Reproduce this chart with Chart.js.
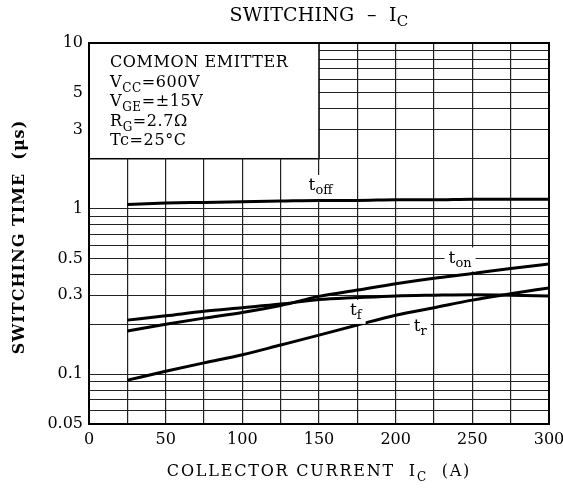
<!DOCTYPE html>
<html>
<head>
<meta charset="utf-8">
<script src="https://cdn.jsdelivr.net/npm/chart.js@4/dist/chart.umd.min.js"></script>
<style>
  html, body { margin: 0; padding: 0; background: #fff; }
  canvas { display: block; }
</style>
</head>
<body>
<canvas id="swChart" width="563" height="488"></canvas>
<script>
// Switching time vs collector current
const currents = [25, 50, 75, 100, 125, 150, 175, 200, 225, 250, 275, 300];
const tOff = [1.06, 1.08, 1.09, 1.10, 1.11, 1.12, 1.12, 1.13, 1.13, 1.14, 1.14, 1.14];
const tOn  = [0.182, 0.200, 0.218, 0.236, 0.260, 0.295, 0.322, 0.352, 0.380, 0.405, 0.435, 0.463];
const tF   = [0.212, 0.225, 0.240, 0.252, 0.265, 0.282, 0.290, 0.297, 0.300, 0.302, 0.300, 0.296];
const tR   = [0.092, 0.104, 0.117, 0.131, 0.150, 0.172, 0.198, 0.227, 0.252, 0.280, 0.306, 0.332];

const xLabelValues = [0, 50, 100, 150, 200, 250, 300];
const yLabelValues = [0.05, 0.1, 0.3, 0.5, 1, 3, 5, 10];
const yGridValues  = [0.05, 0.06, 0.07, 0.08, 0.09, 0.1, 0.2, 0.3, 0.4, 0.5, 0.6, 0.7, 0.8, 0.9,
                      1, 2, 3, 4, 5, 6, 7, 8, 9, 10];

const SERIF = '"DejaVu Serif", "Liberation Serif", serif';
const pts = ys => currents.map((x, i) => ({ x, y: ys[i] }));

// curve labels: [main, subscript, x (A), y (µs)]
const curveLabels = [
  ['t', 'off', 151, 1.37],
  ['t', 'on',  242, 0.50],
  ['t', 'f',   174, 0.241],
  ['t', 'r',   216, 0.195],
];

// condition box (covers the grid from 0..150 A, 2..10 µs)
const boxLines = [
  [['COMMON EMITTER', 0]],
  [['V', 0], ['CC', 1], ['=600V', 0]],
  [['V', 0], ['GE', 1], ['=±15V', 0]],
  [['R', 0], ['G', 1], ['=2.7Ω', 0]],
  [['Tc=25°C', 0]],
];

function drawParts(ctx, x, y, parts, size, subSize, spacing) {
  parts.forEach(([txt, isSub]) => {
    ctx.font = `${isSub ? subSize : size}px ${SERIF}`;
    ctx.letterSpacing = (spacing || 0) + 'px';
    ctx.fillText(txt, x, isSub ? y + 5 : y);
    x += ctx.measureText(txt).width;
  });
  ctx.letterSpacing = '0px';
  return x;
}

function partsWidth(ctx, parts, size, subSize, spacing) {
  let w = 0;
  parts.forEach(([txt, isSub]) => {
    ctx.font = `${isSub ? subSize : size}px ${SERIF}`;
    ctx.letterSpacing = (spacing || 0) + 'px';
    w += ctx.measureText(txt).width;
  });
  ctx.letterSpacing = '0px';
  return w;
}

const decorPlugin = {
  id: 'decor',
  beforeDatasetsDraw(chart) {
    const { ctx, scales: { x, y } } = chart;
    const left = x.getPixelForValue(0), right = x.getPixelForValue(150);
    const top = y.getPixelForValue(10), bottom = y.getPixelForValue(2);
    ctx.save();
    ctx.fillStyle = '#fff';
    ctx.fillRect(left, top, right - left, bottom - top);
    ctx.strokeStyle = '#000';
    ctx.lineWidth = 1.5;
    ctx.strokeRect(left, top, right - left, bottom - top);
    ctx.fillStyle = '#000';
    ctx.textBaseline = 'alphabetic';
    ctx.textAlign = 'left';
    boxLines.forEach((parts, i) => drawParts(ctx, left + 21, top + 24 + i * 19.5, parts, 16, 12, 0.6));
    ctx.restore();
  },
  afterDatasetsDraw(chart) {
    const { ctx, chartArea: ca, scales: { x, y } } = chart;
    ctx.save();
    ctx.fillStyle = '#000';
    ctx.textAlign = 'left';
    ctx.textBaseline = 'middle';

    // curve labels with white knockout
    curveLabels.forEach(([main, sub, vx, vy]) => {
      const parts = [[main, 0], [sub, 1]];
      const w = partsWidth(ctx, parts, 17, 13, 0);
      const cx = x.getPixelForValue(vx), cy = y.getPixelForValue(vy);
      ctx.fillStyle = '#fff';
      ctx.fillRect(cx - w / 2 - 4, cy - 11, w + 8, 24);
      ctx.fillStyle = '#000';
      drawParts(ctx, cx - w / 2, cy, parts, 17, 13, 0);
    });

    // frame
    ctx.strokeStyle = '#000';
    ctx.lineWidth = 2;
    ctx.strokeRect(ca.left, ca.top, ca.right - ca.left, ca.bottom - ca.top);

    const midX = (ca.left + ca.right) / 2;
    ctx.textBaseline = 'alphabetic';

    // title
    const title = [['SWITCHING', 0], ['  –  ', 0], ['I', 0], ['C', 1]];
    const tw = partsWidth(ctx, title, 19, 15, 0.2);
    drawParts(ctx, midX - tw / 2, 21, title, 19, 15, 0.2);

    // x-axis title
    const xt = [['COLLECTOR CURRENT', 0], ['  I', 0], ['C', 1], ['  (A)', 0]];
    const xw = partsWidth(ctx, xt, 16, 12, 1.8);
    drawParts(ctx, midX - xw / 2, 476, xt, 16, 12, 1.8);

    // y-axis title
    ctx.translate(24, 237);
    ctx.rotate(-Math.PI / 2);
    ctx.textAlign = 'center';
    ctx.font = `bold 16px ${SERIF}`;
    ctx.letterSpacing = '1px';
    ctx.fillText('SWITCHING TIME  (μs)', 0, 0);
    ctx.restore();
  }
};

const lineStyle = {
  borderColor: '#000', borderWidth: 3, pointRadius: 0,
  fill: false, cubicInterpolationMode: 'monotone'
};

new Chart(document.getElementById('swChart'), {
  type: 'line',
  data: {
    datasets: [
      { label: 'toff', data: pts(tOff), ...lineStyle },
      { label: 'ton',  data: pts(tOn),  ...lineStyle },
      { label: 'tf',   data: pts(tF),   ...lineStyle },
      { label: 'tr',   data: pts(tR),   ...lineStyle },
    ]
  },
  options: {
    responsive: false,
    animation: false,
    layout: { padding: { top: 43, right: 14, left: 0, bottom: 0 } },
    plugins: { legend: { display: false }, tooltip: { enabled: false }, title: { display: false } },
    scales: {
      x: {
        type: 'linear', min: 0, max: 300,
        afterFit: s => { s.height = 64; s.paddingLeft = 0; s.paddingRight = 0; },
        grid: { color: '#222', lineWidth: 1.2, drawTicks: false },
        border: { display: false },
        ticks: {
          stepSize: 25, padding: 6, color: '#000', maxRotation: 0, autoSkip: false,
          font: { family: SERIF, size: 16 },
          callback: v => xLabelValues.includes(v) ? String(v) : ''
        }
      },
      y: {
        type: 'logarithmic', min: 0.05, max: 10,
        afterFit: s => { s.width = 89; s.paddingTop = 0; s.paddingBottom = 0; },
        afterBuildTicks: s => { s.ticks = yGridValues.map(v => ({ value: v })); },
        grid: { color: '#222', lineWidth: 1, drawTicks: false },
        border: { display: false },
        ticks: {
          padding: 6, color: '#000', autoSkip: false,
          font: { family: SERIF, size: 16 },
          callback: v => yLabelValues.includes(v) ? String(v) : ''
        }
      }
    }
  },
  plugins: [decorPlugin]
});
</script>
</body>
</html>
